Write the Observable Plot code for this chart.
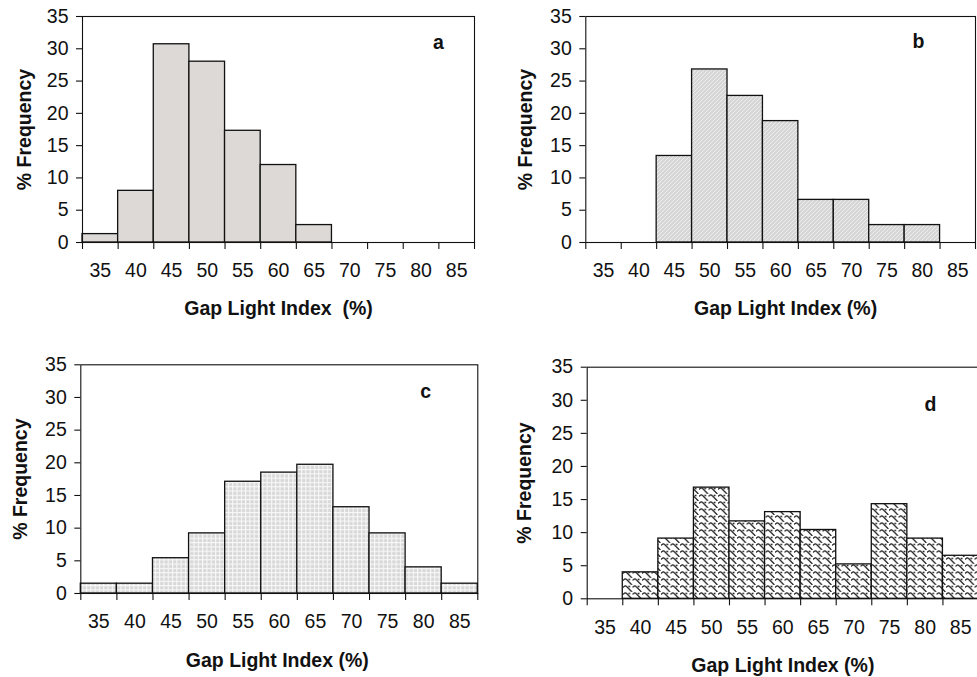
<!DOCTYPE html>
<html><head><meta charset="utf-8">
<script src="https://cdn.jsdelivr.net/npm/d3@7"></script>
<script src="https://cdn.jsdelivr.net/npm/@observablehq/plot@0.6"></script>
<style>
html,body{margin:0;padding:0;background:#fff;}
#root{position:relative;width:977px;height:677px;overflow:hidden;background:#fff;}
.panel{position:absolute;}
</style></head><body><div id="root"></div>
<script>
// Bin centres (Gap Light Index, %)
const bins = [35, 40, 45, 50, 55, 60, 65, 70, 75, 80, 85];
// % frequency per bin
const freqA = [1.3, 8.0, 30.7, 28.0, 17.3, 12.0, 2.7, 0, 0, 0, 0];
const freqB = [0, 0, 13.4, 26.8, 22.7, 18.8, 6.6, 6.6, 2.7, 2.7, 0];
const freqC = [1.5, 1.5, 5.4, 9.2, 17.1, 18.5, 19.7, 13.2, 9.2, 4.0, 1.5];
const freqD = [0, 4.0, 9.1, 16.8, 11.7, 13.1, 10.4, 5.2, 14.3, 9.1, 6.5];
const yTicks = [0, 5, 10, 15, 20, 25, 30, 35];
const panelLetters = ["a", "b", "c", "d"];
const xTitles = ["Gap Light Index\u00a0 (%)", "Gap Light Index (%)", "Gap Light Index (%)", "Gap Light Index (%)"];
const yTitle = "% Frequency";

const FONT = "'Liberation Sans', Arial, Helvetica, sans-serif";

function makeDefs(id, kind) {
  const defs = d3.create("svg:defs");
  const p = defs.append("pattern").attr("id", id).attr("patternUnits", "userSpaceOnUse");
  if (kind === "hatch") {
    p.attr("width", 4).attr("height", 4);
    p.append("rect").attr("width", 4).attr("height", 4).attr("fill", "#d6d6d6");
    p.append("path").attr("d", "M-1,1 L1,-1 M0,4 L4,0 M3,5 L5,3")
      .attr("stroke", "#f0f0f0").attr("stroke-width", 0.9);
  } else if (kind === "grid") {
    p.attr("width", 4.3).attr("height", 4.3);
    p.append("rect").attr("width", 4.3).attr("height", 4.3).attr("fill", "#f8f8f8");
    p.append("rect").attr("x", 1.1).attr("y", 1.1).attr("width", 3.2).attr("height", 3.2).attr("fill", "#d8d8d8");
  } else if (kind === "shingle") {
    p.attr("width", 9.5).attr("height", 7);
    p.append("rect").attr("width", 9.5).attr("height", 7).attr("fill", "#fff");
    p.append("path").attr("d", "M0.3,2.6 C1.3,0.5 3.2,0.5 4.2,2.2 L8.9,6.9")
      .attr("stroke", "#111").attr("stroke-width", 1.25).attr("fill", "none");
    p.append("rect").attr("x", 5.4).attr("y", 0.7).attr("width", 1.6).attr("height", 1.6).attr("fill", "#111");
  }
  return defs.node();
}

const panels = [
  {left: 0,   top: 0,   width: 484,   height: 330, mL: 82,   mR: 10, mT: 16,   mB: 88,   freq: freqA, kind: "solid",   letterDx: -36, letterDy: 26,   yTitleDx: -58, xTitleDy: 66, xTitleDx: 0},
  {left: 490, top: 0,   width: 487,   height: 330, mL: 95.3, mR: 2,  mT: 16,   mB: 88,   freq: freqB, kind: "hatch",   letterDx: -57, letterDy: 25.7, yTitleDx: -60, xTitleDy: 66, xTitleDx: 5},
  {left: 0,   top: 340, width: 487.3, height: 337, mL: 80.3, mR: 10, mT: 24.3, mB: 84,   freq: freqC, kind: "grid",    letterDx: -52, letterDy: 27.4, yTitleDx: -60, xTitleDy: 67, xTitleDx: -2},
  {left: 490, top: 340, width: 488,   height: 337, mL: 96.7, mR: 0,  mT: 26.7, mB: 78.7, freq: freqD, kind: "shingle", letterDx: -48, letterDy: 38,   yTitleDx: -62, xTitleDy: 67, xTitleDx: 0}
];

const root = document.getElementById("root");
const edges = bins.map(b => b - 2.5).concat([bins[bins.length - 1] + 2.5]);

panels.forEach((cfg, i) => {
  const rows = bins.map((b, j) => ({bin: b, freq: cfg.freq[j]})).filter(d => d.freq > 0);
  const pid = "pat-" + i;
  const fill = cfg.kind === "solid" ? "#dcd9d6" : `url(#${pid})`;
  const chart = Plot.plot({
    width: cfg.width,
    height: cfg.height,
    marginLeft: cfg.mL, marginRight: cfg.mR, marginTop: cfg.mT, marginBottom: cfg.mB,
    style: {fontFamily: FONT, fontSize: "19.5px", color: "#111", background: "transparent", overflow: "visible"},
    x: {type: "linear", domain: [32.5, 87.5]},
    y: {domain: [0, 35]},
    marks: [
      () => makeDefs(pid, cfg.kind),
      Plot.rect(rows, {x1: d => d.bin - 2.5, x2: d => d.bin + 2.5, y1: () => 0, y2: "freq", fill, stroke: "#111", strokeWidth: 1.3}),
      Plot.frame({stroke: "#111", strokeWidth: 1.1}),
      Plot.axisY({ticks: yTicks, tickSize: 6, tickPadding: 8, label: null, fontSize: 19.5, strokeWidth: 1.1}),
      Plot.axisX({ticks: edges, tickSize: 7, tickFormat: () => "", label: null, strokeWidth: 1.1}),
      Plot.axisX({ticks: bins, tickSize: 0, tickPadding: 21, label: null, fontSize: 19.5}),
      Plot.text([xTitles[i]], {frameAnchor: "bottom", dy: cfg.xTitleDy, dx: cfg.xTitleDx, fontWeight: "bold", fontSize: 19.5, textAnchor: "middle", lineAnchor: "middle"}),
      Plot.text([yTitle], {frameAnchor: "left", dx: cfg.yTitleDx, rotate: -90, fontWeight: "bold", fontSize: 19.5, textAnchor: "middle", lineAnchor: "middle"}),
      Plot.text([panelLetters[i]], {frameAnchor: "top-right", dx: cfg.letterDx, dy: cfg.letterDy, fontWeight: "bold", fontSize: 19.5, textAnchor: "middle", lineAnchor: "middle"})
    ]
  });
  chart.classList.add("panel");
  chart.style.left = cfg.left + "px";
  chart.style.top = cfg.top + "px";
  root.appendChild(chart);
});
</script></body></html>
